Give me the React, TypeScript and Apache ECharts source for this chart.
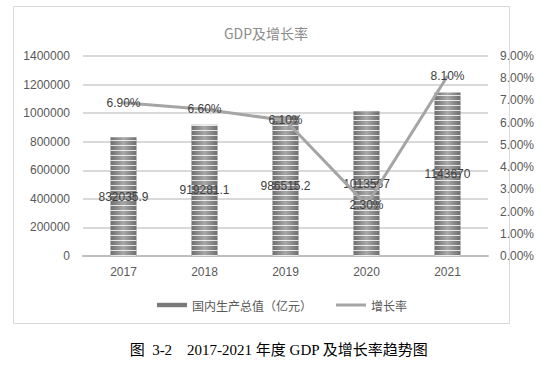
import React, { useEffect, useRef } from "react";
import * as echarts from "echarts";

const years = ["2017", "2018", "2019", "2020", "2021"];
const gdp = [832035.9, 919281.1, 986515.2, 1013567, 1143670];
const gdpLabels = ["832035.9", "919281.1", "986515.2", "1013567", "1143670"];
const growth = [6.9, 6.6, 6.1, 2.3, 8.1];

export default function App() {
  const ref = useRef<HTMLDivElement>(null);
  useEffect(() => {
    const chart = echarts.init(ref.current!, null, { renderer: "svg" });
    const barColor = new echarts.graphic.LinearGradient(0, 0, 1, 0, [
      { offset: 0, color: "#6e6e6e" },
      { offset: 0.5, color: "#a8a8a8" },
      { offset: 1, color: "#6e6e6e" },
    ]);
    chart.setOption({
      animation: false,
      title: {
        text: "GDP及增长率",
        left: 261,
        top: 21,
        textAlign: "center",
        textStyle: { color: "#8c8c8c", fontSize: 14, fontWeight: "normal", fontFamily: "Noto Sans CJK SC" },
      },
      grid: { left: 83, right: 70, top: 56, bottom: 110 },
      legend: {
        top: 294,
        left: 152,
        itemGap: 24,
        textStyle: { color: "#595959", fontSize: 12, fontFamily: "Noto Sans CJK SC" },
        data: [
          { name: "国内生产总值（亿元）", itemStyle: { color: "#7a7a7a" }, icon: "rect" },
          { name: "增长率", itemStyle: { color: "#a5a5a5", opacity: 1 }, icon: "path://M0,0H30V3H0Z" },
        ],
        itemWidth: 30,
        itemHeight: 6,
      },
      xAxis: {
        type: "category",
        data: years,
        axisLine: { lineStyle: { color: "#bfbfbf", width: 2 } },
        axisTick: { show: false },
        axisLabel: { color: "#595959", fontSize: 12, margin: 10 },
      },
      yAxis: [
        {
          type: "value",
          min: 0,
          max: 1400000,
          interval: 200000,
          axisLine: { show: false },
          axisTick: { show: false },
          axisLabel: { color: "#595959", fontSize: 12, margin: 13, formatter: (v: number) => String(v) },
          splitLine: { lineStyle: { color: "#d9d9d9", width: 2 } },
        },
        {
          type: "value",
          min: 0,
          max: 9,
          interval: 1,
          axisLine: { show: false },
          axisTick: { show: false },
          axisLabel: { color: "#595959", fontSize: 12, margin: 12, formatter: (v: number) => v.toFixed(2) + "%" },
          splitLine: { show: false },
        },
      ],
      series: [
        {
          name: "国内生产总值（亿元）",
          type: "bar",
          data: gdp,
          barWidth: 26,
          itemStyle: {
            color: barColor,
            decal: {
              symbol: "rect",
              symbolSize: 1,
              dashArrayX: [1, 0],
              dashArrayY: [1, 4],
              color: "rgba(255,255,255,0.8)",
            },
          },
          label: {
            show: true,
            position: "inside",
            color: "#404040",
            fontSize: 12,
            formatter: (p: any) => gdpLabels[p.dataIndex],
          },
        },
        {
          name: "增长率",
          type: "line",
          yAxisIndex: 1,
          data: growth,
          showSymbol: true,
          symbol: "circle",
          symbolSize: 0.1,
          lineStyle: { color: "#a5a5a5", width: 3 },
          itemStyle: { color: "#a5a5a5" },
          label: {
            show: true,
            position: "inside",
            color: "#404040",
            fontSize: 12,
            formatter: (p: any) => p.value.toFixed(2) + "%",
          },
        },
      ],
      graphic: [
        {
          type: "rect",
          shape: { x: 13.5, y: 6.5, width: 496, height: 317 },
          style: { fill: "none", stroke: "#d9d9d9", lineWidth: 1 },
          silent: true,
        },
        {
          type: "text",
          left: "center",
          top: 342,
          style: {
            text: "图  3-2    2017-2021 年度 GDP 及增长率趋势图",
            fill: "#000",
            fontSize: 15,
            fontFamily: "Liberation Serif, Noto Sans CJK SC",
          },
        },
      ],
    });
    return () => chart.dispose();
  }, []);
  return (
    <div
      ref={ref}
      style={{ position: "absolute", left: 0, top: 0, width: 558, height: 366, background: "#fff" }}
    />
  );
}
